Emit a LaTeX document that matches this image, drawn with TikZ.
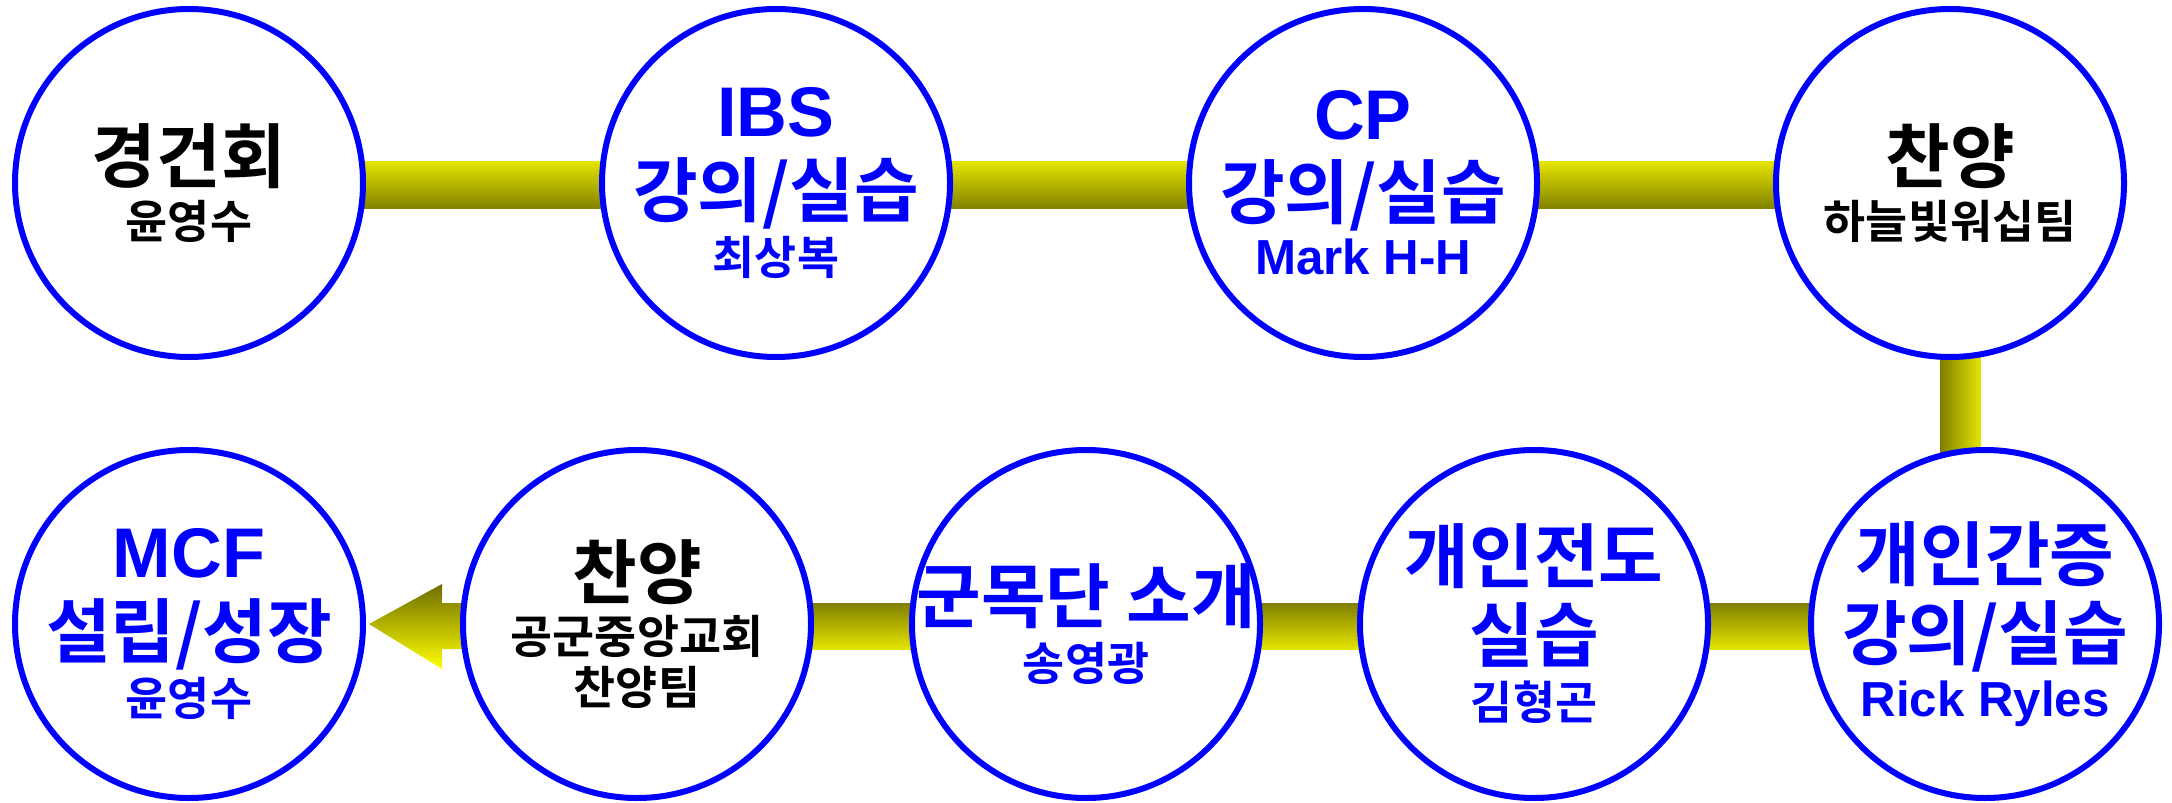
\documentclass[tikz,border=0pt]{standalone}
\usepackage{fontspec}
\setmainfont{Noto Sans CJK KR}[BoldFont={Noto Sans CJK KR Bold}]
\newfontfamily\latin{Liberation Sans}
\usetikzlibrary{calc, backgrounds}
\definecolor{ringblue}{RGB}{0,0,255}
\definecolor{barlight}{RGB}{228,228,0}
\definecolor{bardark}{RGB}{128,128,0}
\definecolor{arrowlight}{RGB}{255,255,0}
\definecolor{arrowdark}{RGB}{110,110,0}
\newcommand{\headfont}{\fontsize{20}{22.5}\selectfont}
\newcommand{\namefont}{\fontsize{13}{14.5}\selectfont}
\newcommand{\latinname}{\fontsize{14}{15}\selectfont\latin}

\begin{document}
\begin{tikzpicture}[
    stage/.style={circle, draw=ringblue, line width=0.06cm, fill=white,
      minimum size=3.48cm, inner sep=-8pt, align=center, font=\bfseries\headfont},
    bluetext/.style={text=ringblue}
  ]
  \useasboundingbox (0,0) rectangle (21.72,8.02);
  \node[stage] (t1) at (1.89,6.19) {경건회\\[-6.5pt]{\namefont 윤영수}};
  \node[stage, bluetext] (t2) at (7.76,6.19) {{\latin IBS}\\강의/실습\\[-6pt]{\namefont 최상복}};
  \node[stage, bluetext] (t3) at (13.63,6.19) {{\latin CP}\\강의/실습\\[-6.5pt]{\latinname Mark H-H}};
  \node[stage] (t4) at (19.50,6.19) {찬양\\[-6.5pt]{\namefont 하늘빛워십팀}};
  \node[stage, bluetext] (b5) at (19.85,1.78) {개인간증\\강의/실습\\[-6.5pt]{\latinname Rick Ryles}};
  \node[stage, bluetext] (b4) at (15.34,1.78) {개인전도\\실습\\[-6pt]{\namefont 김형곤}};
  \node[stage, bluetext] (b3) at (10.86,1.78) {군목단 소개\\[-6pt]{\namefont 송영광}};
  \node[stage] (b2) at (6.37,1.78) {찬양\\[-7pt]{\namefont 공군중앙교회}\\[-8pt]{\namefont 찬양팀}};
  \node[stage, bluetext] (b1) at (1.89,1.78) {{\latin MCF}\\설립/성장\\[-6pt]{\namefont 윤영수}};

  \begin{scope}[on background layer]
    \foreach \a/\b in {t1/t2, t2/t3, t3/t4}
      \shade[top color=barlight, bottom color=bardark]
        ($(\a.center)+(0,0.21)$) rectangle ($(\b.center)+(0,-0.26)$);
    \foreach \a/\b in {b5/b4, b4/b3, b3/b2}
      \shade[top color=bardark, bottom color=barlight]
        ($(\a.center)+(0,0.21)$) rectangle ($(\b.center)+(0,-0.25)$);
    \coordinate (vl) at ($(t4.center)!0.3!(b5.center)+(-0.2,0)$);
    \coordinate (vr) at ($(t4.center)!0.3!(b5.center)+(0.2,0)$);
    \shade[left color=bardark, right color=barlight]
      (vl |- t4.center) rectangle (vr |- b5.center);
    \shade[top color=arrowdark, bottom color=arrowlight]
      ($(b1.east)+(0.03,0)$) -- ++(0.73,0.40) -- ++(0,-0.19)
      -- ($(b2.center)+(0,0.21)$) -- ($(b2.center)+(0,-0.25)$)
      -- ($(b1.east)+(0.76,-0.25)$) -- ++(0,-0.20) -- cycle;
  \end{scope}
\end{tikzpicture}
\end{document}
